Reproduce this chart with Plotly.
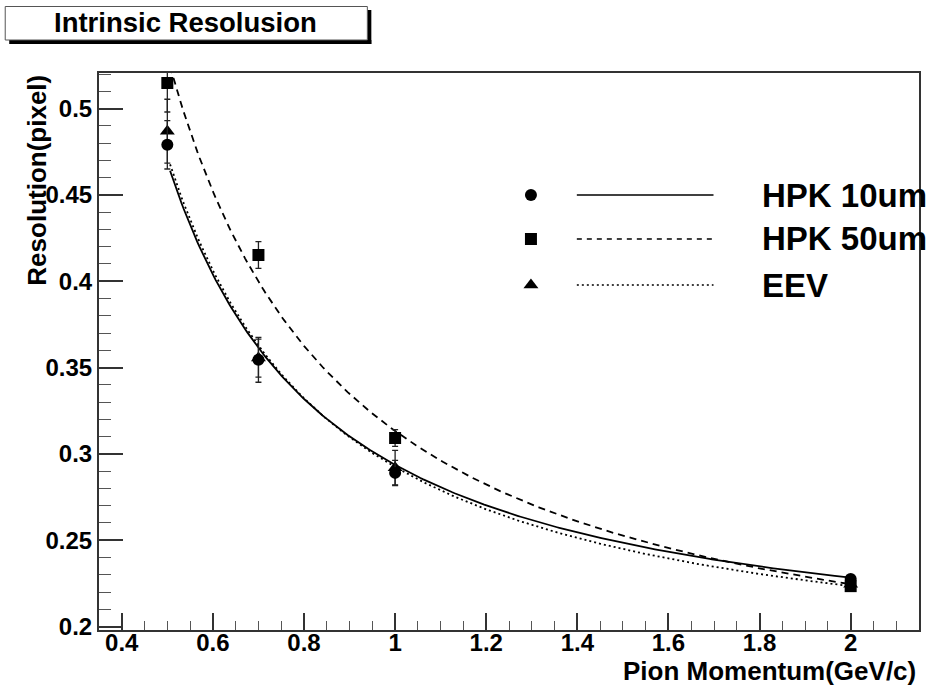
import numpy as np
import plotly.graph_objects as go

# ---------------- data ----------------
momentum = [0.5, 0.7, 1.0, 2.0]

hpk10_res = [0.479, 0.3545, 0.289, 0.2275]
hpk10_err = [0.014, 0.013, 0.0073, 0.002]

hpk50_res = [0.5148, 0.4152, 0.3092, 0.2234]
hpk50_err = [0.0168, 0.0077, 0.0048, 0.002]

eev_res = [0.4869, 0.3555, 0.292, 0.2245]
eev_err = [0.0185, 0.011, 0.010, 0.002]

series_names = ["HPK 10um", "HPK 50um", "EEV"]

# fit parameters: f(p) = A + B/p + C/p^2, drawn for p in fit_range
fit_hpk10 = [0.1778, 0.08615, 0.02968]
fit_hpk50 = [0.14886, 0.13814, 0.02626]
fit_eev = [0.1685, 0.09585, 0.0281]
fit_range = [0.506, 2.0]

x_tickvals = [0.4, 0.6, 0.8, 1.0, 1.2, 1.4, 1.6, 1.8, 2.0]
x_ticktext = ["0.4", "0.6", "0.8", "1", "1.2", "1.4", "1.6", "1.8", "2"]
y_tickvals = [0.2, 0.25, 0.3, 0.35, 0.4, 0.45, 0.5]
y_ticktext = ["0.2", "0.25", "0.3", "0.35", "0.4", "0.45", "0.5"]

# ---------------- layout geometry ----------------
W, H = 927, 691
L, R, T, B = 99, 921, 73, 630
FONT = "Liberation Sans, Arial, Helvetica, sans-serif"


def px(xp):
    return (xp - L) / (R - L)


def py(yp):
    return (B - yp) / (B - T)


def fitcurve(par):
    p = np.linspace(fit_range[0], fit_range[1], 300)
    return p, par[0] + par[1] / p + par[2] / p ** 2


fig = go.Figure()

styles = [
    dict(name=series_names[0], y=hpk10_res, e=hpk10_err, fit=fit_hpk10, sym="circle", size=12, dash="solid"),
    dict(name=series_names[1], y=hpk50_res, e=hpk50_err, fit=fit_hpk50, sym="square", size=12, dash="7px,5px"),
    dict(name=series_names[2], y=eev_res, e=eev_err, fit=fit_eev, sym="triangle-up", size=13, dash="2px,3px"),
]

# fit curves
for s in styles:
    xc, yc = fitcurve(s["fit"])
    fig.add_trace(go.Scatter(x=xc, y=yc, mode="lines",
                             line=dict(color="black", width=1.8, dash=s["dash"]),
                             showlegend=False, hoverinfo="skip"))

# data points (EEV, HPK50, HPK10 drawing order)
for s in [styles[2], styles[1], styles[0]]:
    fig.add_trace(go.Scatter(
        x=momentum, y=s["y"], mode="markers",
        marker=dict(symbol=s["sym"], size=s["size"], color="black", line=dict(width=0)),
        error_y=dict(type="data", array=s["e"], visible=True, color="#222222", thickness=1.3, width=3),
        showlegend=False, cliponaxis=True, name=s["name"]))

# custom ROOT-style legend on an overlay pixel axis
leg_rows = [195, 239, 285]
for s, yy in zip(styles, leg_rows):
    fig.add_trace(go.Scatter(x=[532], y=[yy], mode="markers", xaxis="x2", yaxis="y2",
                             marker=dict(symbol=s["sym"], size=s["size"], color="black", line=dict(width=0)),
                             showlegend=False, hoverinfo="skip"))
    fig.add_trace(go.Scatter(x=[578, 715], y=[yy, yy], mode="lines", xaxis="x2", yaxis="y2",
                             line=dict(color="black", width=1.5, dash=s["dash"] if s["dash"] != "7px,5px" else "5px,5px"),
                             showlegend=False, hoverinfo="skip"))

annotations = []
for s, yy in zip(styles, leg_rows):
    annotations.append(dict(x=px(762), y=py(yy), xref="paper", yref="paper", text=s["name"],
                            showarrow=False, xanchor="left", yanchor="middle",
                            font=dict(family=FONT, size=33, color="black", weight="bold")))

# title
annotations.append(dict(x=px(186), y=py(23), xref="paper", yref="paper", text="Intrinsic Resolusion",
                        showarrow=False, xanchor="center", yanchor="middle",
                        font=dict(family=FONT, size=27.5, color="black", weight="bold")))
# axis titles
annotations.append(dict(x=px(36), y=py(73), xref="paper", yref="paper", text="Resolution(pixel)",
                        showarrow=False, xanchor="center", yanchor="top", textangle=-90,
                        font=dict(family=FONT, size=26, color="black", weight="bold")))
annotations.append(dict(x=px(920), y=py(671), xref="paper", yref="paper", text="Pion Momentum(GeV/c)",
                        showarrow=False, xanchor="right", yanchor="middle",
                        font=dict(family=FONT, size=26, color="black", weight="bold")))

shapes = [
    # title box shadow
    dict(type="rect", xref="paper", yref="paper", x0=px(368), x1=px(372), y0=py(44), y1=py(10),
         fillcolor="black", line=dict(width=0), layer="above"),
    dict(type="rect", xref="paper", yref="paper", x0=px(9), x1=px(372), y0=py(44), y1=py(40),
         fillcolor="black", line=dict(width=0), layer="above"),
    # title box
    dict(type="rect", xref="paper", yref="paper", x0=px(5), x1=px(368), y0=py(40), y1=py(6.5),
         fillcolor="white", line=dict(width=1, color="#555555"), layer="above"),
]

axis_common = dict(showgrid=False, zeroline=False, showline=True, linecolor="#333333", linewidth=2,
                   mirror=True, ticks="inside", tickcolor="#333333", tickwidth=1.5,
                   tickfont=dict(family=FONT, size=24, color="black", weight="bold"))

fig.update_layout(
    width=W, height=H, autosize=False,
    margin=dict(l=L, r=W - R, t=T, b=H - B, pad=0),
    paper_bgcolor="white", plot_bgcolor="white",
    showlegend=False,
    xaxis=dict(range=[0.35, 2.15], tickvals=x_tickvals, ticktext=x_ticktext, ticklen=17,
               ticklabelstandoff=-10,
               minor=dict(ticks="inside", dtick=0.05, tick0=0.35, ticklen=9, tickcolor="#555555", tickwidth=1.2),
               **axis_common),
    yaxis=dict(range=[0.198, 0.5206], tickvals=y_tickvals, ticktext=y_ticktext, ticklen=24,
               minor=dict(ticks="inside", dtick=0.01, tick0=0.2, ticklen=12, tickcolor="#555555", tickwidth=1.2),
               **axis_common),
    xaxis2=dict(overlaying="x", range=[L, R], visible=False),
    yaxis2=dict(overlaying="y", range=[B, T], visible=False),
    annotations=annotations,
    shapes=shapes,
)

fig.write_html("out.html")
